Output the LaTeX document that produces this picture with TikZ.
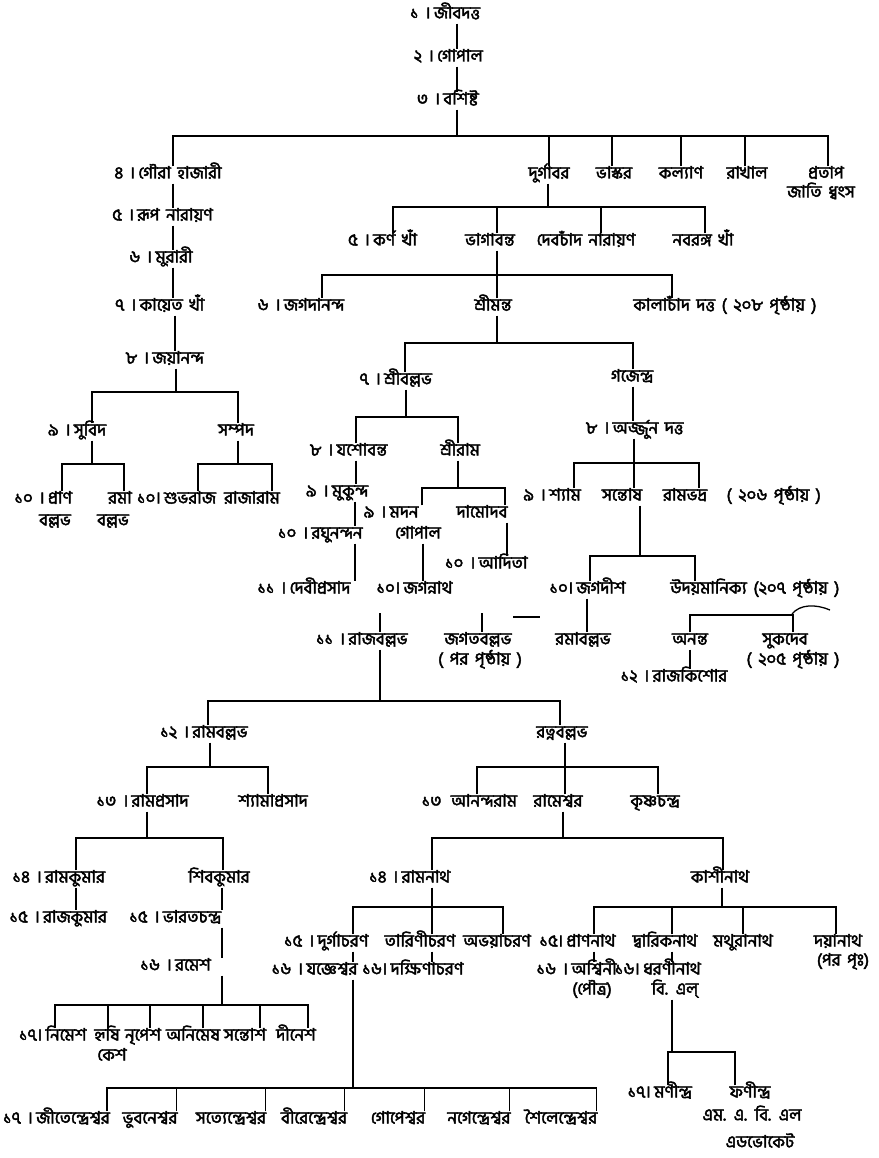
\documentclass[tikz,border=0pt]{standalone}
\usepackage{fontspec}
\setmainfont{Hind Siliguri}[Script=Bengali]
\newfontfamily\bnf{Hind Siliguri}[Script=Bengali, AutoFakeBold=2.5]
\newcommand\bnfont{\bnf\bfseries\fontsize{17}{19}\selectfont\spaceskip=6.5pt\relax}
% parent, junction coordinate, children given as anchor/xshift
\newcommand\kin[3]{%
  \draw[ln] (#1.south -| #2) -- (#2);
  \foreach \c/\s in {#3}{\draw[ln] ([xshift=\s pt]\c) |- (#2);}}
% parent, child, xshift of the line from the child's centre
\newcommand\lnk[3]{%
  \draw[ln] ([xshift=#3 pt]#2.north |- #1.south) -- ([xshift=#3 pt]#2.north);}
\begin{document}
\begin{tikzpicture}[x=1pt,y=-1pt,
  every node/.style={font=\bnfont, inner sep=1pt, text height=11pt, text depth=4pt},
  num/.style={inner sep=1pt},
  p/.style={label={[num]left:{#1}}},
  label distance=1pt,
  ln/.style={line width=1.3pt, black}]
\fill[white] (0,0) rectangle (878,1158);
\useasboundingbox (0,0) rectangle (878,1158);

% ---------- generations 1-4 ----------
\node[p={১ ।}] (n1) at (457,15) {জীবদত্ত};
\node[p={২ ।}] (n2) at (460,58) {গোপাল};
\node[p={৩ ।}] (n3) at (461,101) {বশিষ্ট};
\node[p={৪ ।}] (g4) at (180,175) {গৌরা হাজারী};
\node (durga) at (549,175) {দুর্গাবর};
\node (bhaskar) at (614,175) {ভাস্কর};
\node (kalyan) at (681,175) {কল্যাণ};
\node (rakhal) at (747,175) {রাখাল};
\node (pratap) at (826,175) {প্রতাপ};
\node (pratapnote) at (821,194) {জাতি ধ্বংস};

% ---------- left line ----------
\node[p={৫ ।}] (rup) at (175,217) {রূপ নারায়ণ};
\node[p={৬ ।}] (murari) at (174,259) {মুরারী};
\node[p={৭ ।}] (kayet) at (172,307) {কায়েত খাঁ};
\node[p={৮ ।}] (jaya) at (178,360) {জয়ানন্দ};
\node[p={৯ ।}] (subid) at (90,432) {সুবিদ};
\node (sampad) at (236,432) {সম্পদ};
\node[p={১০ ।}] (pran) at (60,500) {প্রাণ};
\node (pranb) at (55,522) {বল্লভ};
\node (rama) at (120,500) {রমা};
\node (ramab) at (113,522) {বল্লভ};
\node[p={১০।}] (subha) at (190,500) {শুভরাজ};
\node (rajaram) at (252,500) {রাজারাম};

% ---------- Durgabar's line ----------
\node[p={৫ ।}] (karna) at (395,242) {কর্ণ খাঁ};
\node (bhaga) at (490,242) {ভাগাবন্ত};
\node (deb) at (586,242) {দেবচাঁদ নারায়ণ};
\node (naba) at (703,242) {নবরঙ্গ খাঁ};
\node[p={৬ ।}] (jagada) at (314,307) {জগদানন্দ};
\node (srimanta) at (493,307) {শ্রীমন্ত};
\node (kala) at (725,307) {কালাচাঁদ দত্ত ( ২০৮ পৃষ্ঠায় )};
\node[p={৭ ।}] (sriballabh) at (408,381) {শ্রীবল্লভ};
\node (gajendra) at (632,378) {গজেন্দ্র};
\node[p={৮ ।}] (yasho) at (362,452) {যশোবন্ত};
\node (sriram) at (460,452) {শ্রীরাম};
\node[p={৮ ।}] (arjun) at (648,430) {অর্জ্জুন দত্ত};
\node[p={৯ ।}] (shyam) at (565,497) {শ্যাম};
\node (santosh) at (622,497) {সন্তোষ};
\node (rambhadra) at (742,497) {রামভদ্র ~ ( ২০৬ পৃষ্ঠায় )};
\node[p={৯ ।}] (mukunda) at (350,493) {মুকুন্দ};
\node[p={৯ ।}] (madan) at (404,514) {মদন};
\node (damodar) at (482,514) {দামোদব};
\node[p={১০ ।}] (raghu) at (337,535) {রঘুনন্দন};
\node (gopal) at (418,535) {গোপাল};
\node[p={১০ ।}] (aditya) at (503,565) {আদিতা};
\node[p={১১ ।}] (debi) at (320,590) {দেবীপ্রসাদ};
\node[p={১০।}] (jagannath) at (428,590) {জগন্নাথ};
\node[p={১০।}] (jagadish) at (601,590) {জগদীশ};
\node (uday) at (755,590) {উদয়মানিক্য (২০৭ পৃষ্ঠায় )};

% ---------- generations 11-13 ----------
\node[p={১১ ।}] (rajballabh) at (378,641) {রাজবল্লভ};
\node (jagat) at (478,641) {জগতবল্লভ};
\node (jagatnote) at (480,661) {( পর পৃষ্ঠায় )};
\node (ramab2) at (583,641) {রমাবল্লভ};
\node (anant) at (690,641) {অনন্ত};
\node (sukdeb) at (785,641) {সুকদেব};
\node (sukdebnote) at (793,661) {( ২০৫ পৃষ্ঠায় )};
\node[p={১২ ।}] (rajkishore) at (690,678) {রাজকিশোর};
\node[p={১২ ।}] (ramballabh) at (220,734) {রামবল্লভ};
\node (ratna) at (562,734) {রত্নবল্লভ};
\node[p={১৩ ।}] (ramprasad) at (160,803) {রামপ্রসাদ};
\node (shyamaprasad) at (273,803) {শ্যামাপ্রসাদ};
\node[label={[num, xshift=-6pt]left:{১৩}}] (ananda) at (484,803) {আনন্দরাম};
\node (rameshwar) at (558,803) {রামেশ্বর};
\node (krishna) at (655,803) {কৃষ্ণচন্দ্র};

% ---------- generations 14-17 ----------
\node[p={১৪ ।}] (ramkumar) at (75,879) {রামকুমার};
\node (shibkumar) at (219,879) {শিবকুমার};
\node[p={১৪ ।}] (ramnath) at (426,879) {রামনাথ};
\node (kashinath) at (720,879) {কাশীনাথ};
\node[p={১৫ ।}] (rajkumar) at (75,919) {রাজকুমার};
\node[p={১৫ ।}] (bharat) at (192,919) {ভারতচন্দ্র};
\node[p={১৫ ।}] (durgacharan) at (343,943) {দুর্গাচরণ};
\node (tarini) at (420,943) {তারিণীচরণ};
\node (abhaya) at (497,943) {অভয়াচরণ};
\node[p={১৫।}] (prannath) at (591,943) {প্রাণনাথ};
\node (dwarik) at (665,943) {দ্বারিকনাথ};
\node (mathura) at (743,943) {মথুরানাথ};
\node (daya) at (838,943) {দয়ানাথ};
\node (dayanote) at (843,962) {(পর পৃঃ)};
\node[p={১৬ ।}] (ramesh) at (193,967) {রমেশ};
\node[p={১৬ ।}] (yajnesh) at (332,971) {যজ্ঞেশ্বর};
\node[p={১৬।}] (dakshina) at (427,971) {দক্ষিণাচরণ};
\node[p={১৬ ।}] (ashwini) at (594,971) {অশ্বিনী};
\node (ashwininote) at (592,991) {(পৌত্র)};
\node[p={১৬।}] (dharani) at (672,971) {ধরণীনাথ};
\node (dharaninote) at (675,991) {বি. এল্};
\node[p={১৭।}] (nimesh) at (66,1037) {নিমেশ};
\node (hrishi) at (107,1037) {হৃষি};
\node (keshnote) at (112,1057) {কেশ};
\node (nripesh) at (143,1037) {নৃপেশ};
\node (animesh) at (193,1037) {অনিমেষ};
\node (santosh2) at (245,1037) {সন্তোশ};
\node (dinesh) at (296,1037) {দীনেশ};
\node[p={১৭।}] (mani) at (673,1094) {মণীন্দ্র};
\node (phani) at (750,1094) {ফণীন্দ্র};
\node (phaninote) at (752,1117) {এম. এ. বি. এল};
\node (phaninote2) at (760,1144) {এডভোকেট};
\node[p={১৭ ।}] (jiten) at (73,1120) {জীতেন্দ্রেশ্বর};
\node (bhuban) at (150,1120) {ভুবনেশ্বর};
\node (satyen) at (231,1120) {সত্যেন্দ্রেশ্বর};
\node (biren) at (314,1120) {বীরেন্দ্রেশ্বর};
\node (gopesh) at (398,1120) {গোপেশ্বর};
\node (nagen) at (479,1120) {নগেন্দ্রেশ্বর};
\node (shailen) at (561,1120) {শৈলেন্দ্রেশ্বর};

% ---------- junction points ----------
\coordinate (b3) at (457,136);
\coordinate (bj) at (176,392);
\coordinate (bs) at (92,464);
\coordinate (bp) at (238,464);
\coordinate (bd) at (548,207);
\coordinate (bb) at (497,275);
\coordinate (bm) at (497,343);
\coordinate (bsb) at (406,417);
\coordinate (ba) at (634,463);
\coordinate (bsn) at (640,556);
\coordinate (bsr) at (458,488);
\coordinate (bu) at (740,615);
\coordinate (brb) at (380,701);
\coordinate (brm) at (210,767);
\coordinate (brt) at (565,767);
\coordinate (brp) at (147,838);
\coordinate (bre) at (563,838);
\coordinate (brs) at (222,1005);
\coordinate (brn) at (432,907);
\coordinate (bk) at (722,907);
\coordinate (bdh) at (672,1052);
\coordinate (byj) at (353,1088);
\coordinate (rbtop) at (380,613);
\coordinate (jgtop) at (482,613);
\coordinate (dashl) at (513,617);
\coordinate (dashr) at (540,617);
\coordinate (curvea) at (792,614);
\coordinate (curveb) at (830,610);

% ---------- connectors ----------
\lnk{n1}{n2}{-3}
\lnk{n2}{n3}{-4}
\kin{n3}{b3}{g4.north/-7, durga.north/0, bhaskar.north/-2, kalyan.north/0, rakhal.north/-2, pratap.north/2}
\lnk{g4}{rup}{-2}
\lnk{rup}{murari}{-1}
\lnk{murari}{kayet}{1}
\lnk{kayet}{jaya}{-3}
\kin{jaya}{bj}{subid.north/2, sampad.north/2}
\kin{subid}{bs}{pran.north/2, rama.north/4}
\kin{sampad}{bp}{subha.north/8, rajaram.north/20}
\kin{durga}{bd}{karna.north/-2, bhaga.north/7, deb.north/15, naba.north/2}
\kin{bhaga}{bb}{jagada.north/8, srimanta.north/4, kala.north/-53}
\kin{srimanta}{bm}{sriballabh.north/-3, gajendra.north/1}
\kin{sriballabh}{bsb}{yasho.north/-6, sriram.north/-2}
\lnk{gajendra}{arjun}{-15}
\kin{arjun}{ba}{shyam.north/9, santosh.north/12, rambhadra.north/-43}
\kin{santosh}{bsn}{jagadish.north/-11, uday.north/-60}
\lnk{yasho}{mukunda}{6}
\lnk{mukunda}{raghu}{18}
\lnk{raghu}{debi}{35}
\kin{sriram}{bsr}{madan.north/18, damodar.north/23}
\lnk{gopal}{jagannath}{-5}
\lnk{damodar}{aditya}{4}
\draw[ln] (rbtop) -- (rbtop |- rajballabh.north);
\draw[ln] (jgtop) -- (jgtop |- jagat.north);
\draw[ln] (dashl) -- (dashr);
\lnk{jagadish}{ramab2}{4}
\foreach \c/\s in {anant.north/0, sukdeb.north/8}{\draw[ln] ([xshift=\s pt]\c) |- (bu);}
\draw[ln] (curvea) .. controls (800,604) and (816,604) .. (curveb);
\lnk{anant}{rajkishore}{0}
\kin{rajballabh}{brb}{ramballabh.north/-12, ratna.north/-2}
\kin{ramballabh}{brm}{ramprasad.north/-13, shyamaprasad.north/-5}
\kin{ratna}{brt}{ananda.north/-7, rameshwar.north/7, krishna.north/3}
\kin{ramprasad}{brp}{ramkumar.north/1, shibkumar.north/4}
\kin{rameshwar}{bre}{ramnath.north/6, kashinath.north/3}
\lnk{ramkumar}{rajkumar}{1}
\lnk{shibkumar}{bharat}{30}
\lnk{bharat}{ramesh}{29}
\kin{ramesh}{brs}{nimesh.north/-11, hrishi.north/1, nripesh.north/7, animesh.north/10, santosh2.north/15, dinesh.north/12}
\kin{ramnath}{brn}{durgacharan.north/10, tarini.north/12, abhaya.north/6}
\kin{kashinath}{bk}{prannath.north/3, dwarik.north/7, mathura.north/0, daya.north/-2}
\lnk{durgacharan}{yajnesh}{21}
\lnk{tarini}{dakshina}{5}
\lnk{prannath}{ashwini}{0}
\lnk{dwarik}{dharani}{0}
\kin{dharaninote}{bdh}{mani.north/-5, phani.north/-15}
\kin{yajnesh}{byj}{jiten.north east/-4, bhuban.north east/-2, satyen.north east/-2, biren.north east/-4, gopesh.north east/-2, nagen.north east/-2, shailen.north east/-2}
\end{tikzpicture}
\end{document}
